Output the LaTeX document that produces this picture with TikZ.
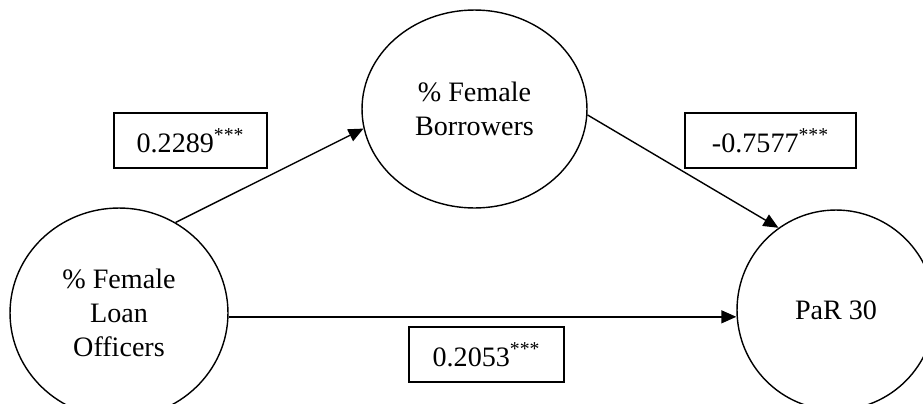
\documentclass[tikz,border=0pt]{standalone}
\usepackage{fontspec}
\setmainfont{Liberation Serif}
\usepackage{tikz}
\usetikzlibrary{shapes, arrows.meta, positioning}

\begin{document}
\begin{tikzpicture}[x=0.02cm, y=-0.02cm,
        var/.style={draw, ellipse, line width=0.8pt, inner sep=0pt, align=center,
            font=\fontsize{16}{19.3}\selectfont},
        coef/.style={draw, line width=0.8pt, minimum height=1.1cm,
            font=\fontsize{16}{19.3}\selectfont},
        arr/.style={-{Triangle[length=0.3cm, width=0.26cm]}, line width=0.8pt}]
        \useasboundingbox (0,0) rectangle (923,403);

        \node[var, minimum width=4.36cm, minimum height=4.2cm] at (119,313) (lo) {\% Female\\Loan\\Officers};
        \node[var, minimum width=4.5cm, minimum height=3.96cm] at (474.5,109) (bw) {\% Female\\Borrowers};
        \node[var, minimum width=3.96cm, minimum height=4cm] at (836,310) (par) {PaR 30};

        \draw[arr] (lo.58) -- (bw.190);
        \draw[arr] (bw.-3) -- (par.125);
        \draw[arr] (lo.-2) -- (lo.-2 -| par.west);

        \node[coef, minimum width=3.06cm] at (190.5,140.5) (c1) {0.2289\textsuperscript{***}};
        \node[coef, minimum width=3.42cm] at (770.5,140.5) (c2) {-0.7577\textsuperscript{***}};
        \node[coef, minimum width=3.1cm] at (486.5,354.5) (c3) {0.2053\textsuperscript{***}};
    \end{tikzpicture}
\end{document}
